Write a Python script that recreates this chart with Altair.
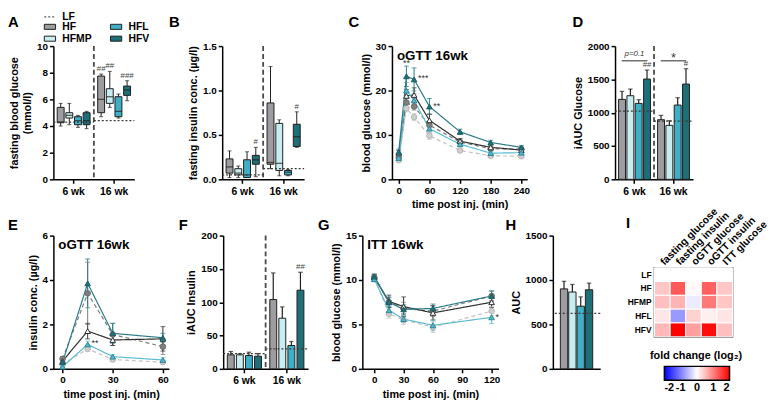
import altair as alt
import pandas as pd

FONT = "Liberation Sans"
INK = "#1e1e1e"

groups = ["HF", "HFMP", "HFL", "HFV"]
periods = ["6 wk", "16 wk"]
series = ["LF", "HF", "HFMP", "HFL", "HFV"]

# ---------------- data ----------------
A_min = [[4.0, 4.1, 3.9, 3.8], [4.7, 5.4, 4.6, 5.9]]
A_q1 = [[4.25, 4.6, 4.1, 4.1], [5.0, 5.7, 4.7, 6.3]]
A_med = [[4.3, 4.8, 4.4, 4.4], [6.0, 6.2, 5.1, 6.7]]
A_q3 = [[5.4, 5.0, 4.7, 5.0], [7.75, 6.8, 6.2, 7.0]]
A_max = [[5.7, 5.7, 4.8, 5.1], [7.9, 8.1, 6.4, 7.4]]
A_sig = [["", "", "", ""], ["##", "##", "", "###"]]
A_lf = [4.3, 4.4]

B_min = [[0.02, 0.02, 0.02, 0.03], [0.12, 0.04, 0.04, 0.36]]
B_q1 = [[0.07, 0.05, 0.02, 0.17], [0.17, 0.10, 0.05, 0.37]]
B_med = [[0.14, 0.07, 0.05, 0.22], [0.19, 0.18, 0.08, 0.48]]
B_q3 = [[0.23, 0.12, 0.22, 0.27], [0.86, 0.63, 0.10, 0.62]]
B_max = [[0.32, 0.15, 0.31, 0.36], [1.27, 0.67, 0.11, 0.76]]
B_sig = [["", "", "", "#"], ["", "", "", "#"]]
B_lf = [0.05, 0.12]

C_times = [0, 15, 30, 60, 120, 180, 240]
C_mean = {
    "LF": [4.3, 16.0, 14.0, 9.8, 6.5, 5.3, 5.2],
    "HF": [5.0, 17.3, 16.4, 12.2, 8.4, 6.9, 6.8],
    "HFMP": [6.0, 18.8, 19.0, 13.3, 8.6, 7.2, 6.6],
    "HFL": [4.8, 20.0, 17.8, 11.4, 7.9, 5.9, 6.0],
    "HFV": [6.2, 23.2, 22.5, 16.4, 10.7, 8.3, 7.2],
}
C_sem = {
    "LF": [0.3, 0.8, 0.8, 0.8, 0.4, 0.3, 0.3],
    "HF": [0.4, 1.0, 0.8, 0.9, 0.5, 0.4, 0.4],
    "HFMP": [0.5, 1.4, 1.6, 1.4, 0.6, 0.5, 0.5],
    "HFL": [0.5, 1.8, 1.5, 1.0, 0.5, 0.4, 0.4],
    "HFV": [0.6, 2.3, 2.6, 1.8, 0.6, 0.5, 0.4],
}
C_sig_t = [15, 30, 60]
C_sig_y = [26.2, 22.8, 16.6]
C_sig = ["**", "***", "**"]
C_sig_align = ["center", "left", "left"]

D_mean = [[1200, 1255, 1140, 1505], [895, 810, 1115, 1430]]
D_err = [[120, 100, 55, 135], [65, 70, 110, 230]]
D_sig = [["", "", "", "##"], ["", "", "", "#"]]
D_lf = [1025, 875]
D_br_y = [1780, 1780]
D_br_label = ["p=0.1", "*"]

E_times = [0, 15, 30, 60]
E_mean = {
    "LF": [0.2, 0.9, 0.42, 0.3],
    "HF": [0.45, 3.4, 1.55, 1.0],
    "HFMP": [0.35, 1.7, 1.3, 1.35],
    "HFL": [0.1, 1.1, 0.55, 0.4],
    "HFV": [0.3, 3.85, 1.6, 1.4],
}
E_sem = {
    "LF": [0.05, 0.1, 0.08, 0.05],
    "HF": [0.1, 1.4, 0.5, 0.35],
    "HFMP": [0.1, 0.35, 0.25, 0.55],
    "HFL": [0.05, 0.15, 0.1, 0.1],
    "HFV": [0.1, 1.1, 0.45, 0.2],
}
E_sig_t = [15]
E_sig_y = [1.15]
E_sig = ["**"]
E_sig_align = ["left"]

F_mean = [[21, 21, 20, 19], [104, 76, 35, 118]]
F_err = [[5, 2, 5, 4], [40, 17, 6, 27]]
F_sig = [["", "", "", ""], ["", "", "", "##"]]
F_lf = [23, 30]

G_times = [0, 15, 30, 60, 120]
G_mean = {
    "LF": [10.2, 6.2, 5.5, 4.7, 6.5],
    "HF": [10.3, 7.5, 6.8, 6.5, 8.2],
    "HFMP": [10.3, 7.6, 7.0, 6.3, 7.5],
    "HFL": [10.1, 6.6, 5.6, 4.9, 5.8],
    "HFV": [10.4, 7.5, 6.7, 6.8, 8.2],
}
G_sem = {
    "LF": [0.3, 0.5, 0.5, 0.6, 0.5],
    "HF": [0.3, 0.6, 0.7, 0.6, 0.5],
    "HFMP": [0.3, 0.7, 1.1, 0.8, 0.6],
    "HFL": [0.3, 0.5, 0.4, 0.6, 0.7],
    "HFV": [0.3, 0.5, 0.5, 0.5, 0.6],
}
G_sig_t = [120]
G_sig_y = [5.8]
G_sig = ["*"]
G_sig_align = ["left"]

H_mean = [900, 865, 705, 890]
H_err = [85, 85, 105, 75]
H_lf = 625

hm_rows = ["LF", "HF", "HFMP", "HFL", "HFV"]
hm_cols = ["fasting glucose", "fasting insulin", "oGTT glucose", "oGTT insulin", "ITT glucose"]
hm_vals = {
    "LF": [0, 0, 0, 0, 0],
    "HF": [0.45, 1.3, 0.05, 1.25, 0.45],
    "HFMP": [0.5, 0.6, -0.15, 1.05, 0.45],
    "HFL": [0.2, -0.8, 0.35, 0.12, 0.2],
    "HFV": [0.55, 2.0, 0.75, 1.9, 0.5],
}

# ---------------- styles ----------------
fill_map = {"HF": "#9d9da1", "HFMP": "#c8edf0", "HFL": "#3db0c8", "HFV": "#1f6f79"}
legend_order = ["HF", "HFMP", "HFL", "HFV"]
line_col = ["#c2c2c2", "#7a7a7a", "#2e2e2e", "#5bbcd0", "#2a7c86"]
pt_fill = ["#cfcfcf", "#808080", "#ffffff", "#53b8cf", "#236f79"]
pt_stroke = ["#b5b5b5", "#6a6a6a", "#2e2e2e", "#2f8796", "#1d5e66"]
dash_rng = [[4, 3], [4, 3], [1, 0], [1, 0], [1, 0]]
shape_rng = ["circle", "circle", "triangle-up", "triangle-up", "triangle-up"]


def make_Y(domain, values, title, fmt=None):
    sc = alt.Scale(domain=domain, nice=False, zero=True)
    ax = alt.Axis(values=values, title=title, format=fmt if fmt else "d")
    return lambda f: alt.Y(f"{f}:Q", scale=sc, axis=ax)


def text_mark(txt, dx, dy, size=15, align="left", baseline="alphabetic"):
    return alt.Chart(pd.DataFrame({"t": [txt]})).mark_text(
        align=align, baseline=baseline, fontSize=size, fontWeight="bold", font=FONT,
        color="black").encode(x=alt.value(dx), y=alt.value(dy), text="t:N")


def period_x():
    return alt.X("period:N", scale=alt.Scale(domain=periods, paddingInner=0, paddingOuter=0),
                 axis=alt.Axis(title=None, labelAngle=0, labelPadding=3, labelFontSize=10.5))


def x_off():
    return alt.XOffset("group:N", scale=alt.Scale(domain=groups, paddingInner=0.12, paddingOuter=0.4))


def fill_enc(legend=None):
    return alt.Fill("group:N",
                    scale=alt.Scale(domain=legend_order, range=[fill_map[g] for g in legend_order]),
                    legend=legend)


def pg_df(**cols):
    rows = []
    for pi, p in enumerate(periods):
        for gi, g in enumerate(groups):
            r = {"period": p, "group": g}
            for k, v in cols.items():
                r[k] = v[pi][gi]
            rows.append(r)
    return pd.DataFrame(rows)


def overlay(lf, Y, legend=None):
    qx = alt.Scale(domain=[0, 2], nice=False, zero=False)
    sep = alt.Chart(pd.DataFrame({"b": [1.0]})).mark_rule(
        color="#4a4a4a", strokeWidth=1.8, strokeDash=[5, 3]).encode(
        x=alt.X("b:Q", scale=qx, axis=None))
    lfdf = pd.DataFrame({"s": [0.0, 1.0], "e": [1.0, 2.0], "v": lf, "name": ["LF", "LF"]})
    lfr = alt.Chart(lfdf).mark_rule(color="#3a3a3a", strokeWidth=1.3).encode(
        x=alt.X("s:Q", scale=qx, axis=None), x2="e:Q", y=Y("v"),
        strokeDash=alt.StrokeDash("name:N", scale=alt.Scale(domain=["LF"], range=[[2, 2]]),
                                  legend=legend))
    return alt.layer(sep, lfr)


def box_panel(df, lf, Y, w, h, letter, ldx, ldy, with_legend=False):
    base = alt.Chart(df).encode(x=period_x(), xOffset=x_off())
    fleg = None
    lleg = None
    if with_legend:
        fleg = alt.Legend(orient="none", legendX=-10, legendY=-26, title=None, columns=2,
                          columnPadding=16, rowPadding=-4,
                          symbolType="M-1,-0.45H1V0.45H-1Z", symbolSize=130,
                          symbolStrokeColor=INK, symbolStrokeWidth=1, symbolOpacity=1,
                          labelFontSize=10.5, labelFontWeight="bold", labelOffset=6)
        lleg = alt.Legend(orient="none", legendX=-10, legendY=-36, title=None,
                          symbolType="stroke", symbolStrokeColor="#555", symbolStrokeWidth=1.3,
                          symbolSize=130, labelFontSize=10.5, labelFontWeight="bold", labelOffset=6)
    whisk = base.mark_rule(color=INK, strokeWidth=1).encode(y=Y("lo"), y2="hi:Q")
    box = base.mark_bar(width=7, stroke=INK, strokeWidth=1).encode(
        y=Y("q1"), y2="q3:Q", fill=fill_enc(fleg))
    med = base.mark_tick(orient="horizontal", size=7, thickness=1.3, color=INK).encode(y=Y("med"))
    cap_lo = base.mark_tick(orient="horizontal", size=4, thickness=1, color=INK).encode(y=Y("lo"))
    cap_hi = base.mark_tick(orient="horizontal", size=4, thickness=1, color=INK).encode(y=Y("hi"))
    sig = base.mark_text(dy=-1, baseline="bottom", fontSize=8, color="#444", font=FONT).encode(
        y=Y("hi"), text="sig:N")
    main = alt.layer(whisk, box, med, cap_lo, cap_hi, sig, text_mark(letter, ldx, ldy))
    return alt.layer(main, overlay(lf, Y, lleg)).resolve_scale(x="independent").properties(
        width=w, height=h)


def bar_panel(df, lf, Y, w, h, letter, ldx, ldy, br_y=None, br_label=None):
    base = alt.Chart(df).encode(x=period_x(), xOffset=x_off())
    bars = base.mark_bar(width=7, stroke=INK, strokeWidth=1).encode(y=Y("mean"), fill=fill_enc())
    err = base.mark_rule(color=INK, strokeWidth=1.2).encode(y=Y("mean"), y2="hi:Q")
    cap = base.mark_tick(orient="horizontal", size=4.5, thickness=1.2, color=INK).encode(y=Y("hi"))
    sig = base.mark_text(dy=-1, baseline="bottom", fontSize=8, color="#444", font=FONT).encode(
        y=Y("hi"), text="sig:N")
    layers = [bars, err, cap, sig]
    if br_y is not None:
        bdf = pd.DataFrame({"period": periods, "y": br_y, "label": br_label})
        bb = alt.Chart(bdf)
        layers.append(bb.mark_tick(orient="horizontal", size=26, thickness=1.5, color="#333").encode(
            x=period_x(), y=Y("y")))
        layers.append(bb.transform_filter(alt.datum.label != "*").mark_text(
            dy=-3, baseline="bottom", fontSize=8, fontStyle="italic", color="#333", font=FONT).encode(
            x=period_x(), y=Y("y"), text="label:N"))
        layers.append(bb.transform_filter(alt.datum.label == "*").mark_text(
            dy=4, baseline="bottom", fontSize=13, color="#333", font=FONT).encode(
            x=period_x(), y=Y("y"), text="label:N"))
    layers.append(text_mark(letter, ldx, ldy))
    main = alt.layer(*layers)
    return alt.layer(main, overlay(lf, Y)).resolve_scale(x="independent").properties(
        width=w, height=h)


def line_panel(times, means, sems, xdom, xticks, Y, w, h, letter, ldx, ldy, inner,
               sig_t, sig_y, sig_txt, sig_align, legend=False):
    rows = []
    for s in series:
        for t, m, e in zip(times, means[s], sems[s]):
            rows.append({"time": t, "group": s, "mean": m, "lo": m - e, "hi": m + e})
    df = pd.DataFrame(rows)
    X = alt.X("time:Q", scale=alt.Scale(domain=xdom, nice=False, zero=False),
              axis=alt.Axis(values=xticks, title="time post inj. (min)", labelFlush=False))
    base = alt.Chart(df).encode(x=X)
    col = alt.Color("group:N", scale=alt.Scale(domain=series, range=line_col), legend=None)
    leg = None
    if legend:
        leg = alt.Legend(orient="none", legendX=86, legendY=-1, title=None, labelFontSize=10.5,
                         labelFontWeight="bold", symbolSize=45, rowPadding=-1, labelOffset=8,
                         symbolStrokeWidth=1)
    err = base.mark_rule(strokeWidth=1).encode(y=Y("lo"), y2="hi:Q", color=col)
    cap_lo = base.mark_tick(orient="horizontal", size=5, thickness=1).encode(y=Y("lo"), color=col)
    cap_hi = base.mark_tick(orient="horizontal", size=5, thickness=1).encode(y=Y("hi"), color=col)
    line = base.mark_line(strokeWidth=1.2).encode(
        y=Y("mean"), color=col,
        strokeDash=alt.StrokeDash("group:N", scale=alt.Scale(domain=series, range=dash_rng), legend=None))
    pts = base.mark_point(size=32, strokeWidth=1, opacity=1, fillOpacity=1).encode(
        y=Y("mean"),
        shape=alt.Shape("group:N", scale=alt.Scale(domain=series, range=shape_rng), legend=leg),
        fill=alt.Fill("group:N", scale=alt.Scale(domain=series, range=pt_fill), legend=leg),
        stroke=alt.Stroke("group:N", scale=alt.Scale(domain=series, range=pt_stroke), legend=leg))
    sdf = pd.DataFrame({"time": sig_t, "y": sig_y, "label": sig_txt, "al": sig_align})
    sb = alt.Chart(sdf)
    s_left = sb.transform_filter(alt.datum.al == "left").mark_text(
        align="left", dx=4, baseline="middle", fontSize=9, color="#333", font=FONT).encode(
        x=X, y=Y("y"), text="label:N")
    s_ctr = sb.transform_filter(alt.datum.al == "center").mark_text(
        align="center", baseline="middle", fontSize=9, color="#333", font=FONT).encode(
        x=X, y=Y("y"), text="label:N")
    ttl = text_mark(inner, 5, 3, size=13.5, baseline="top")
    return alt.layer(err, cap_lo, cap_hi, line, pts, s_left, s_ctr, ttl,
                     text_mark(letter, ldx, ldy)).properties(width=w, height=h)


R1 = -19   # letter baseline, row 1 (relative to plot top)
R2 = -6    # letter baseline, row 2

# ---------------- panels ----------------
YA = make_Y([0, 10], [0, 2, 4, 6, 8, 10], ["fasting blood glucose", "(mmol/l)"])
A = box_panel(pg_df(lo=A_min, q1=A_q1, med=A_med, q3=A_q3, hi=A_max, sig=A_sig),
              A_lf, YA, 82, 135, "A", -46, R1, with_legend=True)

YB = make_Y([0, 1.5], [0, 0.5, 1.0, 1.5], "fasting insulin conc. (µg/l)", ".1f")
B = box_panel(pg_df(lo=B_min, q1=B_q1, med=B_med, q3=B_q3, hi=B_max, sig=B_sig),
              B_lf, YB, 83, 135, "B", -54, R1)

YC = make_Y([0, 30], [0, 10, 20, 30], "blood glucose (mmol/l)")
C = line_panel(C_times, C_mean, C_sem, [-13.3, 251.4], [0, 60, 120, 180, 240], YC, 137, 135,
               "C", -44, R1, "oGTT 16wk", C_sig_t, C_sig_y, C_sig, C_sig_align, legend=True)

YD = make_Y([0, 2000], [0, 500, 1000, 1500, 2000], "iAUC Glucose")
D_hi = [[m + e for m, e in zip(r1, r2)] for r1, r2 in zip(D_mean, D_err)]
D = bar_panel(pg_df(mean=D_mean, hi=D_hi, sig=D_sig), D_lf, YD, 79, 135, "D", -43, R1,
              D_br_y, D_br_label)

YE = make_Y([0, 6], [0, 2, 4, 6], "insulin conc. (µg/l)")
E = line_panel(E_times, E_mean, E_sem, [-5.5, 63.6], [0, 30, 60], YE, 117, 135,
               "E", -46, R2, "oGTT 16wk", E_sig_t, E_sig_y, E_sig, E_sig_align)

YF = make_Y([0, 200], [0, 50, 100, 150, 200], "iAUC Insulin")
F_hi = [[m + e for m, e in zip(r1, r2)] for r1, r2 in zip(F_mean, F_err)]
F = bar_panel(pg_df(mean=F_mean, hi=F_hi, sig=F_sig), F_lf, YF, 86, 135, "F", -45, R2)

YG = make_Y([0, 15], [0, 5, 10, 15], "blood glucose (mmol/l)")
G = line_panel(G_times, G_mean, G_sem, [-12.2, 127.1], [0, 30, 60, 90, 120], YG, 138, 135,
               "G", -45, R2, "ITT 16wk", G_sig_t, G_sig_y, G_sig, G_sig_align)

# H
YH = make_Y([0, 1500], [0, 500, 1000, 1500], "AUC")
hdf = pd.DataFrame({"group": groups, "mean": H_mean,
                    "hi": [m + e for m, e in zip(H_mean, H_err)]})
HX = alt.X("group:N", scale=alt.Scale(domain=groups, paddingInner=0.12, paddingOuter=0.9),
           axis=alt.Axis(title=None, labels=False, ticks=False))
hb = alt.Chart(hdf).encode(x=HX)
H = alt.layer(
    hb.mark_bar(stroke=INK, strokeWidth=1).encode(y=YH("mean"), fill=fill_enc()),
    hb.mark_rule(color=INK, strokeWidth=1.2).encode(y=YH("mean"), y2="hi:Q"),
    hb.mark_tick(orient="horizontal", size=4.5, thickness=1.2, color=INK).encode(y=YH("hi")),
    alt.Chart(pd.DataFrame({"v": [H_lf]})).mark_rule(color="#3a3a3a", strokeWidth=1.3,
                                                      strokeDash=[2, 2]).encode(y=YH("v")),
    text_mark("H", -48, R2),
).properties(width=48, height=135)

# I heatmap (labels drawn as text marks through the band scales)
hrows = []
for r in hm_rows:
    for c, v in zip(hm_cols, hm_vals[r]):
        hrows.append({"row": r, "col": c, "v": v})
hdf2 = pd.DataFrame(hrows)
IX = alt.X("col:N", scale=alt.Scale(domain=hm_cols, paddingInner=0, paddingOuter=0), axis=None)
IY = alt.Y("row:N", scale=alt.Scale(domain=hm_rows, paddingInner=0, paddingOuter=0), axis=None)
cells = alt.Chart(hdf2).mark_rect(stroke="white", strokeWidth=1).encode(
    x=IX, y=IY,
    color=alt.Color("v:Q", scale=alt.Scale(domain=[-2, 0, 2], range=["#0000ff", "#ffffff", "#ff0000"],
                                           interpolate="rgb"),
                    legend=alt.Legend(orient="none", legendX=10, legendY=100, direction="horizontal",
                                      title=None, gradientLength=66, gradientThickness=14,
                                      gradientStrokeColor="black", gradientStrokeWidth=1.5,
                                      values=[-2, -1, 0, 1, 2], labelExpr="'' + datum.value",
                                      labelAlign="center",
                                      labelFontSize=11, labelFontWeight="bold", labelOffset=2)))
row_lbl = alt.Chart(pd.DataFrame({"row": hm_rows})).mark_text(
    align="right", baseline="middle", fontSize=8.5, fontWeight="bold", font=FONT, color="black",
    dx=-3).encode(y=IY, x=alt.value(0), text="row:N")
col_lbl = alt.Chart(pd.DataFrame({"col": hm_cols})).mark_text(
    align="left", baseline="middle", fontSize=10.5, fontWeight="bold", font=FONT, color="black",
    angle=315).encode(x=IX, y=alt.value(-4), text="col:N")
I = alt.layer(
    cells, row_lbl, col_lbl,
    text_mark("I", -29, -40),
    text_mark("fold change (log₂)", 42, 95, size=11, align="center", baseline="bottom"),
).properties(width=79, height=70, view=alt.ViewBackground(stroke="black", strokeWidth=1.5))

indep = dict(color="independent", fill="independent", stroke="independent", shape="independent",
             strokeDash="independent", xOffset="independent")

row1 = alt.hconcat(A, B, C, D, spacing=89, bounds="flush").resolve_scale(**indep)
row2 = alt.hconcat(E, F, G, H, I, spacing=55, bounds="flush", center=True).resolve_scale(**indep)
chart = alt.vconcat(row1, row2, spacing=-5).resolve_scale(**indep).properties(
    padding={"left": 0, "top": 0, "right": 0, "bottom": 0})

chart = chart.configure(font=FONT).configure_view(stroke=None).configure_axis(
    domainColor="black", domainWidth=1.5, tickColor="black", tickWidth=1.5, tickSize=4,
    labelFont=FONT, labelFontSize=10, labelFontWeight="bold", labelColor="black",
    titleFont=FONT, titleFontSize=11, titleFontWeight="bold", titleColor="black",
    grid=False, labelPadding=2, titlePadding=4,
).configure_legend(labelFont=FONT, labelColor="black")

chart.save("out.html", embed_options={"renderer": "svg", "actions": False})
